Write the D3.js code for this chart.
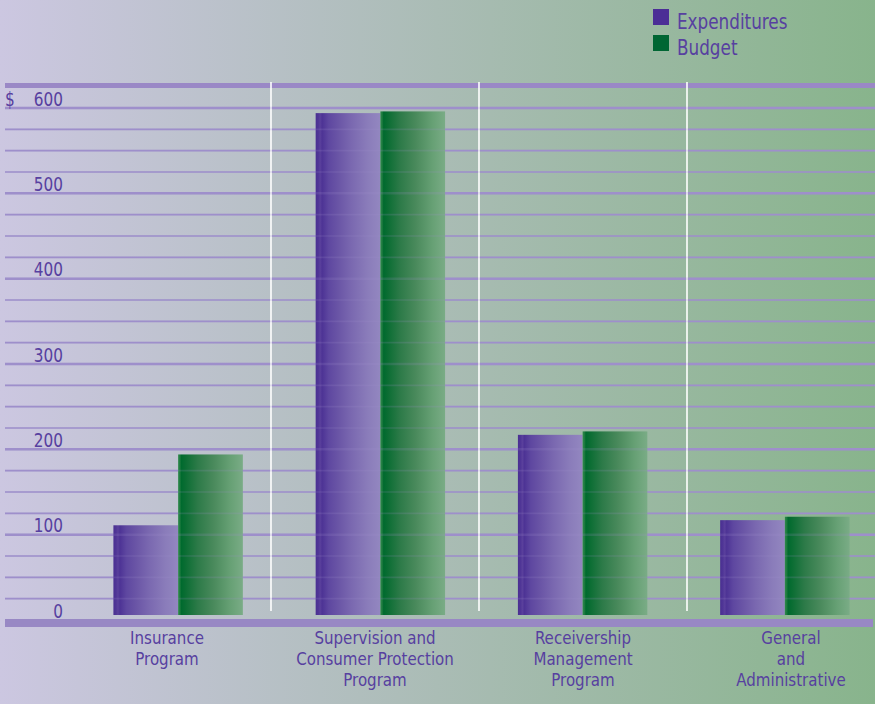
<!DOCTYPE html>
<html><head><meta charset="utf-8">
<script src="https://cdn.jsdelivr.net/npm/d3@7"></script>
<style>body{margin:0;overflow:hidden}svg{display:block}</style>
</head><body>
<script>
const categories = ["Insurance Program","Supervision and Consumer Protection Program","Receivership Management Program","General and Administrative"];
const categoryLines = [["Insurance","Program"],["Supervision and","Consumer Protection","Program"],["Receivership","Management","Program"],["General","and","Administrative"]];
const seriesNames = ["Expenditures","Budget"];
const expenditures = [111, 594, 217, 117];
const budget = [194, 596, 221, 121];
const yTicks = [0,100,200,300,400,500,600];

const W = 875, H = 704;
const font = "'Liberation Sans Narrow','DejaVu Sans Condensed',sans-serif";
const textColor = "#5740a0";
const gridColor = "#9e8fcb";

const svg = d3.select("body").append("svg").attr("width", W).attr("height", H);
const defs = svg.append("defs");

const bg = defs.append("linearGradient").attr("id","bg").attr("x1","0").attr("x2","1").attr("y1","0").attr("y2","0");
bg.append("stop").attr("offset","0").attr("stop-color","#ccc7e1");
bg.append("stop").attr("offset","0.5").attr("stop-color","#aabcb5");
bg.append("stop").attr("offset","1").attr("stop-color","#88b48c");
svg.append("rect").attr("width",W).attr("height",H).attr("fill","url(#bg)");

const gExp = defs.append("linearGradient").attr("id","gExp").attr("x1","0").attr("x2","1");
[[0,"#4a2f92"],[0.04,"#4f3596"],[0.07,"#5a409c"],[0.1,"#4d3395"],[0.2,"#5e47a0"],[0.35,"#6a55a6"],[0.55,"#7a68b0"],[0.8,"#8a7cba"],[1,"#9387c0"]]
  .forEach(([o,c])=>gExp.append("stop").attr("offset",o).attr("stop-color",c));
const gBud = defs.append("linearGradient").attr("id","gBud").attr("x1","0").attr("x2","1");
[[0,"#2f8a4c"],[0.03,"#1c7a3e"],[0.05,"#006a2e"],[0.12,"#0c6e34"],[0.3,"#2c7a48"],[0.55,"#4a8a5c"],[0.8,"#66a074"],[1,"#7aac86"]]
  .forEach(([o,c])=>gBud.append("stop").attr("offset",o).attr("stop-color",c));

const y = d3.scaleLinear().domain([0,600]).range([620,108]);
const x = d3.scaleBand().domain(categories).range([77,886]).paddingInner(0.36).paddingOuter(0.18);
const xs = d3.scaleBand().domain(categories).range([63,895]);
const xi = d3.scaleBand().domain(seriesNames).range([0, x.bandwidth()]);

// grid lines
const minor = d3.range(25, 601, 25);
function drawGrid(g, op){
  g.selectAll("line").data(minor).join("line")
    .attr("x1",5).attr("x2",W)
    .attr("y1",d=>y(d)).attr("y2",d=>y(d))
    .attr("stroke",gridColor).attr("stroke-opacity",op)
    .attr("stroke-width",d=>d%100===0?2.5:1.6);
}
drawGrid(svg.append("g"), 1);

// top thick line
svg.append("line").attr("x1",5).attr("x2",W).attr("y1",85.5).attr("y2",85.5)
  .attr("stroke","#9a88c6").attr("stroke-width",5);

// separators
svg.append("g").selectAll("line").data(categories.slice(1)).join("line")
  .attr("x1",d=>xs(d)).attr("x2",d=>xs(d)).attr("y1",82).attr("y2",611)
  .attr("stroke","#ffffff").attr("stroke-width",1.6);

// bars
const rows = categories.map((c,i)=>({c, vals:[{s:"Expenditures",v:expenditures[i]},{s:"Budget",v:budget[i]}]}));
const bars = svg.append("g");
rows.forEach(r=>{
  bars.selectAll(null).data(r.vals).join("rect")
    .attr("x",d=>x(r.c)+xi(d.s)).attr("width",xi.bandwidth())
    .attr("y",d=>y(d.v)).attr("height",d=>y(0)-5-y(d.v))
    .attr("fill",d=>d.s==="Expenditures"?"url(#gExp)":"url(#gBud)");
});
drawGrid(svg.append("g"), 0.18);

// bottom thick line
svg.append("line").attr("x1",5).attr("x2",873).attr("y1",623).attr("y2",623)
  .attr("stroke","#9888c4").attr("stroke-width",8);

// helper: horizontally condensed text
function ctext(g, tx, ty, str, size, anchor, sx){
  return g.append("text")
    .attr("transform",`translate(${tx},${ty}) scale(${sx},1)`)
    .attr("text-anchor",anchor).attr("font-family",font)
    .attr("font-size",size).attr("fill",textColor).text(str);
}

// y labels
const yl = svg.append("g");
yTicks.forEach(d=>ctext(yl, 63, y(d)-2.5, d, 20, "end", 0.85));
ctext(yl, 5, y(600)-2.5, "$", 20, "start", 0.85);

// x labels
const xl = svg.append("g");
categories.forEach((c,i)=>{
  categoryLines[i].forEach((ln,j)=>{
    ctext(xl, xs(c)+xs.bandwidth()/2, 644+j*21, ln, 18, "middle", 0.93);
  });
});

// legend
const leg = svg.append("g");
const legColors = ["#4b2e96","#006633"];
seriesNames.forEach((s,i)=>{
  leg.append("rect").attr("x",653).attr("y",9+i*26).attr("width",16).attr("height",16).attr("fill",legColors[i]);
  ctext(leg, 677, 29+i*26, s, 22, "start", 0.85);
});
</script>
</body></html>
